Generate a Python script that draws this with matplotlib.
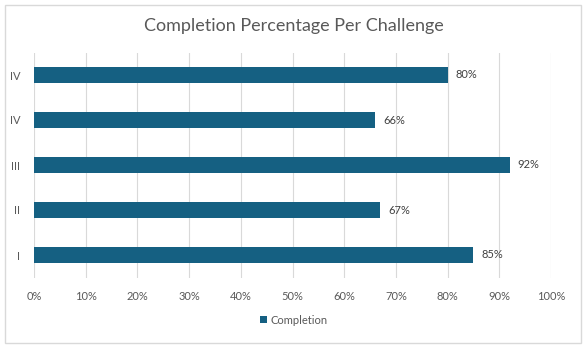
import numpy as np
import matplotlib.pyplot as plt
from matplotlib.patches import Rectangle

plt.rcParams['font.family'] = ['Lato', 'DejaVu Sans']

# data, bottom to top
challenges = ['I', 'II', 'III', 'IV', 'IV']
completion = [0.85, 0.67, 0.92, 0.66, 0.80]

bar_color = '#156082'
text_color = '#595959'
grid_color = '#d9d9d9'

fig = plt.figure(figsize=(5.88, 3.49), dpi=100)
ax = fig.add_axes([34 / 588, 1 - 277.5 / 349, (551 - 34) / 588, 225 / 349])

y = np.arange(len(challenges))
bars = ax.barh(y, completion, height=0.36, color=bar_color, label='Completion', zorder=3)

for b, v in zip(bars, completion):
    ax.text(v + 0.015, b.get_y() + b.get_height() / 2, f'{v:.0%}',
            va='center', ha='left', fontsize=8, color='#404040')

ax.set_xlim(0, 1)
ax.set_ylim(-0.5, len(challenges) - 0.5)
ax.set_xticks(np.arange(0, 1.01, 0.1))
ax.set_xticklabels([f'{int(round(t * 100))}%' for t in np.arange(0, 1.01, 0.1)])
ax.set_yticks(y)
ax.set_yticklabels(challenges)
ax.tick_params(axis='both', length=0, labelsize=8, colors=text_color)
ax.tick_params(axis='x', pad=10)
ax.tick_params(axis='y', pad=10)
ax.grid(axis='x', color=grid_color, linewidth=0.8, zorder=0)
for s in ax.spines.values():
    s.set_visible(False)

fig.text(0.5, 1 - 26 / 349, 'Completion Percentage Per Challenge', ha='center', va='center',
         fontsize=13, color=text_color)

fig.legend(handles=[bars], labels=['Completion'], loc='center', bbox_to_anchor=(0.5, 1 - 320 / 349),
           frameon=False, fontsize=8, labelcolor=text_color, handlelength=0.6, handleheight=0.6,
           handletextpad=0.3)

fig.patches.append(Rectangle((5 / 588, 6 / 349), 576 / 588, 338 / 349, transform=fig.transFigure,
                             fill=False, edgecolor='#d9d9d9', linewidth=1))

fig.savefig('out.png', dpi=100)
